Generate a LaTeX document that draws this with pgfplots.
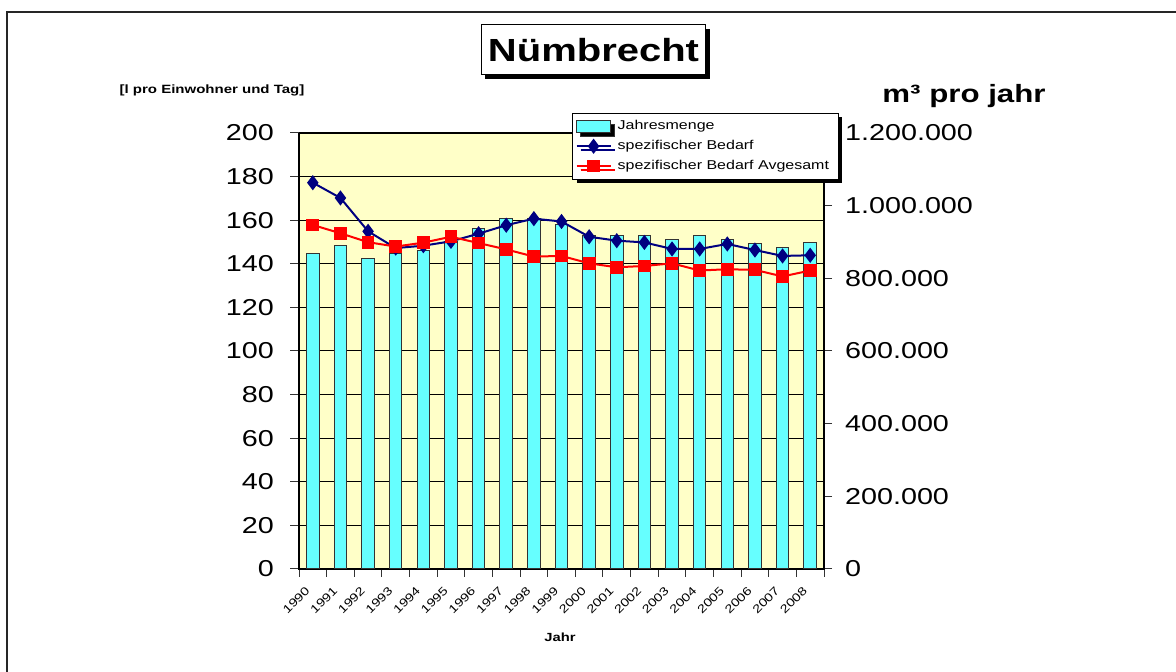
\documentclass[border=0pt]{standalone}
\usepackage{pgfplots}
\pgfplotsset{compat=1.18}
\usepackage{fontspec}
\setmainfont{Liberation Sans}[FakeStretch=1.25]
\usetikzlibrary{shadows}
\definecolor{bgyellow}{RGB}{255,255,200}
\definecolor{barcyan}{RGB}{102,255,255}
\definecolor{navyblue}{RGB}{0,0,128}
\definecolor{redline}{RGB}{255,0,0}
\begin{document}
\begin{tikzpicture}
\useasboundingbox (0,0) rectangle (588pt,336pt);
\draw[line width=1pt, black!85] (3.5pt,-1pt) -- (3.5pt,330pt) -- (589pt,330pt);
% bars on right axis
\begin{axis}[
  at={(149.5pt,51.5pt)}, anchor=south west,
  scale only axis, width=262.5pt, height=218pt,
  xmin=0, xmax=19, ymin=0, ymax=1200000,
  axis background/.style={fill=bgyellow},
  axis line style={black, line width=0.6pt},
  ytick={0,200000,400000,600000,800000,1000000,1200000},
  yticklabel pos=right, ytick pos=right,
  scaled y ticks=false,
  /pgf/number format/fixed, /pgf/number format/1000 sep={.}, /pgf/number format/assume math mode=true,
  y tick label style={font=\fontsize{11.5}{12}\selectfont, anchor=west, xshift=3pt},
  xtick={0,1,...,19},
  xticklabels={1990,1991,1992,1993,1994,1995,1996,1997,1998,1999,2000,2001,2002,2003,2004,2005,2006,2007,2008,{}},
  xtick pos=bottom,
  x tick label style={font=\fontsize{5.8}{6}\selectfont, rotate=45, anchor=north east, inner sep=1pt, xshift=0pt, yshift=-4pt},
  tick align=outside, major tick length=4pt,
  tick style={black!80, line width=0.5pt},
  extra y ticks={120000,240000,360000,480000,600000,720000,840000,960000,1080000},
  extra y tick labels={},
  extra y tick style={grid=major, major tick length=0pt, major grid style={black, line width=0.5pt}},
]
\addplot[ybar, bar width=6.25pt, fill=barcyan, draw=black!80, line width=0.5pt] coordinates {
(0.5,867000) (1.5,889000) (2.5,855000) (3.5,867000) (4.5,877000) (5.5,900000) (6.5,938000)
(7.5,966000) (8.5,964000) (9.5,947000) (10.5,917000) (11.5,917000) (12.5,919000) (13.5,907000)
(14.5,917000) (15.5,907000) (16.5,895000) (17.5,886000) (18.5,898000)};
\end{axis}
% lines on left axis
\begin{axis}[
  at={(149.5pt,51.5pt)}, anchor=south west,
  scale only axis, width=262.5pt, height=218pt,
  xmin=0, xmax=19, ymin=0, ymax=200,
  axis y line*=left, axis x line=none,
  axis line style={black, line width=0.6pt},
  ytick={0,20,...,200}, ytick pos=left,
  /pgf/number format/assume math mode=true,
  yticklabel style={font=\fontsize{11.5}{12}\selectfont, anchor=east, xshift=-4.5pt},
  tick align=outside, major tick length=4.5pt,
  tick style={black!80, line width=0.5pt},
  legend style={at={(0.52,1.046)}, anchor=north west, draw=black, line width=0.5pt, fill=white,
    font=\fontsize{6.4}{7}\selectfont, drop shadow={shadow xshift=2pt, shadow yshift=-2pt, opacity=1, fill=black},
    row sep=-0.3pt, inner sep=1.5pt, nodes={inner xsep=3pt}},
  legend cell align=left,
]
\addlegendimage{area legend, fill=barcyan, draw=black!80, line width=0.5pt}
\addlegendentry{Jahresmenge}
\addplot[color=navyblue, line width=1pt, mark=diamond*, mark size=3pt, mark options={fill=navyblue}] coordinates {
(0.5,177.2) (1.5,170.2) (2.5,154.9) (3.5,147.2) (4.5,148.3) (5.5,150.3) (6.5,153.8) (7.5,157.7)
(8.5,160.7) (9.5,159.4) (10.5,152.4) (11.5,150.6) (12.5,149.8) (13.5,146.8) (14.5,146.8)
(15.5,149.1) (16.5,146.3) (17.5,143.6) (18.5,143.9)};
\addlegendentry{spezifischer Bedarf}
\addplot[color=redline, line width=1pt, mark=square*, mark size=2.7pt, mark options={fill=redline}] coordinates {
(0.5,157.8) (1.5,154.0) (2.5,149.9) (3.5,147.9) (4.5,149.7) (5.5,152.4) (6.5,149.5) (7.5,146.6)
(8.5,143.3) (9.5,143.6) (10.5,140.2) (11.5,138.4) (12.5,139.0) (13.5,140.2) (14.5,136.9)
(15.5,137.5) (16.5,137.2) (17.5,134.2) (18.5,136.9)};
\addlegendentry{spezifischer Bedarf Avgesamt}
\end{axis}
\node[draw=black, line width=0.5pt, fill=white, minimum width=109.5pt, minimum height=25pt,
  font=\fontsize{16}{18}\bfseries\selectfont,
  drop shadow={shadow xshift=2pt, shadow yshift=-2pt, opacity=1, fill=black}] at (296.75pt,311pt) {Nümbrecht};
\node[font=\fontsize{6}{7}\bfseries\selectfont] at (106pt,291pt) {[l pro Einwohner und Tag]};
\node[font=\fontsize{12.5}{14}\bfseries\selectfont] at (482pt,288pt) {m³ pro jahr};
\node[font=\fontsize{5.9}{7}\bfseries\selectfont] at (280pt,17.5pt) {Jahr};
\end{tikzpicture}
\end{document}
